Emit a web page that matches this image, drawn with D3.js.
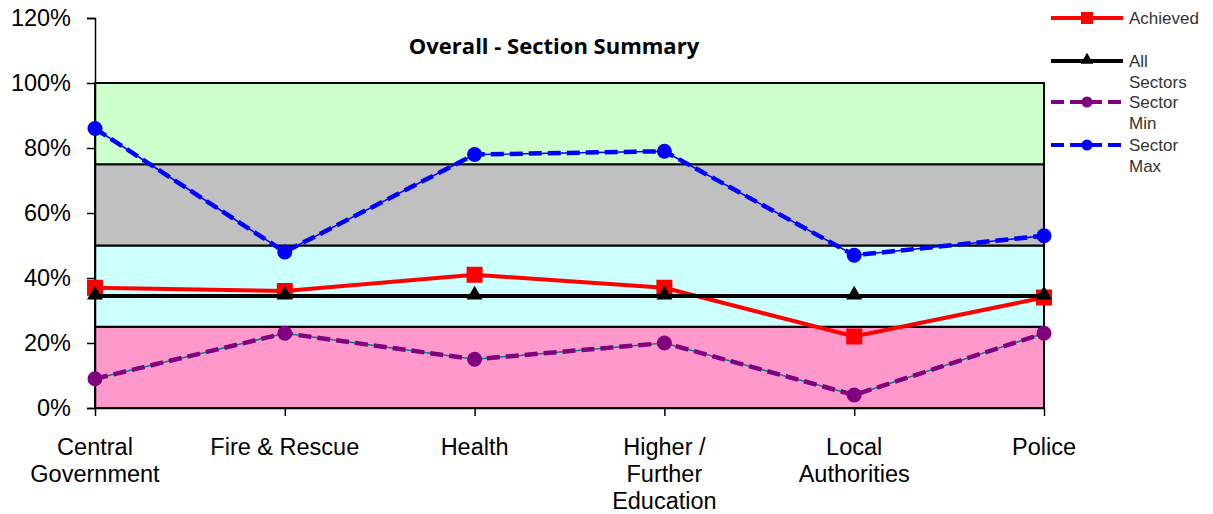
<!DOCTYPE html>
<html>
<head>
<meta charset="utf-8">
<script src="https://cdn.jsdelivr.net/npm/d3@7"></script>
<style>
  html, body { margin: 0; padding: 0; background: #fff; }
  svg { display: block; font-family: "Liberation Sans", Arial, sans-serif; }
</style>
</head>
<body>
<svg id="chart" width="1213" height="514"></svg>
<script>
// Sector categories (multi-line labels split by "\n")
const categories = ["Central\nGovernment", "Fire & Rescue", "Health", "Higher /\nFurther\nEducation", "Local\nAuthorities", "Police"];

// Series values, percent
const achieved   = [37, 36, 41, 37, 22, 34];
const allSectors = [34.5, 34.5, 34.5, 34.5, 34.5, 34.5];
const sectorMin  = [9, 23, 15, 20, 4, 23];
const sectorMax  = [86, 48, 78, 79, 47, 53];

// Background rating bands (percent ranges)
const bandLower  = [0, 25, 50, 75];
const bandUpper  = [25, 50, 75, 100];
const bandColors = ["#ff99cc", "#ccffff", "#c0c0c0", "#ccffcc"];

// Y axis ticks
const yTicks = [0, 20, 40, 60, 80, 100, 120];

const svg = d3.select("#chart");
const m = { left: 95, right: 1044, top: 18, bottom: 408 };

const x = d3.scalePoint().domain(d3.range(categories.length)).range([m.left, m.right]);
const y = d3.scaleLinear().domain([0, 120]).range([m.bottom, m.top]);

// Bands
svg.append("g").selectAll("rect").data(bandLower).join("rect")
  .attr("x", m.left)
  .attr("width", m.right - m.left)
  .attr("y", (d, i) => y(bandUpper[i]))
  .attr("height", (d, i) => y(d) - y(bandUpper[i]))
  .attr("fill", (d, i) => bandColors[i])
  .attr("stroke", "#000")
  .attr("stroke-width", 2);

// Y axis
const yAxis = svg.append("g")
  .attr("transform", `translate(${m.left},0)`)
  .call(d3.axisLeft(y).tickValues(yTicks).tickFormat(d => d + "%").tickSize(8).tickPadding(16));
yAxis.select(".domain").attr("stroke", "#000").attr("stroke-width", 1.5);
yAxis.selectAll(".tick line").attr("stroke", "#000").attr("stroke-width", 1.5);
yAxis.selectAll(".tick text").attr("font-size", 23.5).attr("fill", "#000")
  .attr("font-family", "Liberation Sans, Arial, sans-serif");

// X axis
const xAxis = svg.append("g")
  .attr("transform", `translate(0,${m.bottom})`)
  .call(d3.axisBottom(x).tickFormat("").tickSize(8).tickSizeOuter(0));
xAxis.select(".domain").attr("stroke", "#000").attr("stroke-width", 1.5);
xAxis.selectAll(".tick line").attr("stroke", "#000").attr("stroke-width", 1.5);

// Category labels
const catG = svg.append("g");
categories.forEach((c, i) => {
  const t = catG.append("text")
    .attr("x", x(i))
    .attr("y", 455)
    .attr("text-anchor", "middle")
    .attr("font-size", 23.5)
    .attr("fill", "#000");
  c.split("\n").forEach((line, j) => {
    t.append("tspan").attr("x", x(i)).attr("dy", j === 0 ? 0 : 27).text(line);
  });
});

// Title
svg.append("text")
  .attr("x", 554).attr("y", 54)
  .attr("text-anchor", "middle")
  .attr("font-size", 22)
  .attr("font-weight", "bold")
  .attr("font-family", "'Open Sans', 'Liberation Sans', sans-serif")
  .attr("fill", "#000")
  .text("Overall - Section Summary");

const line = d3.line().x((d, i) => x(i)).y(d => y(d));

// Sector Min: thin teal core with purple dashes
svg.append("path").datum(sectorMin).attr("d", line)
  .attr("fill", "none").attr("stroke", "#008080").attr("stroke-width", 1.5);
svg.append("path").datum(sectorMin).attr("d", line)
  .attr("fill", "none").attr("stroke", "#800080").attr("stroke-width", 4.5)
  .attr("stroke-dasharray", "13,6");
svg.append("g").selectAll("circle").data(sectorMin).join("circle")
  .attr("cx", (d, i) => x(i)).attr("cy", d => y(d)).attr("r", 7.5).attr("fill", "#800080");

// Sector Max: thin blue core with blue dashes
svg.append("path").datum(sectorMax).attr("d", line)
  .attr("fill", "none").attr("stroke", "#0000ff").attr("stroke-width", 1.5);
svg.append("path").datum(sectorMax).attr("d", line)
  .attr("fill", "none").attr("stroke", "#0000ff").attr("stroke-width", 4.5)
  .attr("stroke-dasharray", "13,6");
svg.append("g").selectAll("circle").data(sectorMax).join("circle")
  .attr("cx", (d, i) => x(i)).attr("cy", d => y(d)).attr("r", 7.5).attr("fill", "#0000ff");

// Achieved
svg.append("path").datum(achieved).attr("d", line)
  .attr("fill", "none").attr("stroke", "#ff0000").attr("stroke-width", 4);
svg.append("g").selectAll("rect").data(achieved).join("rect")
  .attr("x", (d, i) => x(i) - 8).attr("y", d => y(d) - 8)
  .attr("width", 16).attr("height", 16).attr("fill", "#ff0000");

// All Sectors
svg.append("path").datum(allSectors).attr("d", line)
  .attr("fill", "none").attr("stroke", "#000").attr("stroke-width", 4);
const tri = d3.symbol().type(d3.symbolTriangle).size(110);
svg.append("g").selectAll("path").data(allSectors).join("path")
  .attr("transform", (d, i) => `translate(${x(i)},${y(d) - 1})`)
  .attr("d", tri).attr("fill", "#000");

// Legend
const legendItems = [
  { lines: ["Achieved"], color: "#ff0000", dash: null, marker: "square", y: 18 },
  { lines: ["All", "Sectors"], color: "#000", dash: null, marker: "triangle", y: 61 },
  { lines: ["Sector", "Min"], color: "#800080", dash: "13,6", marker: "circle", y: 102 },
  { lines: ["Sector", "Max"], color: "#0000ff", dash: "13,6", marker: "circle", y: 145 }
];
const lg = svg.append("g");
legendItems.forEach(it => {
  lg.append("line").attr("x1", 1051).attr("x2", 1123).attr("y1", it.y).attr("y2", it.y)
    .attr("stroke", it.color).attr("stroke-width", 4)
    .attr("stroke-dasharray", it.dash);
  const cx = 1087;
  if (it.marker === "square") {
    lg.append("rect").attr("x", cx - 6).attr("y", it.y - 6).attr("width", 12).attr("height", 12).attr("fill", it.color);
  } else if (it.marker === "triangle") {
    lg.append("path").attr("transform", `translate(${cx},${it.y - 1})`)
      .attr("d", d3.symbol().type(d3.symbolTriangle).size(70)).attr("fill", it.color);
  } else {
    lg.append("circle").attr("cx", cx).attr("cy", it.y).attr("r", 5.5).attr("fill", it.color);
  }
  const t = lg.append("text").attr("x", 1129).attr("y", it.y + 6)
    .attr("font-size", 17).attr("fill", "#333");
  it.lines.forEach((l, j) => t.append("tspan").attr("x", 1129).attr("dy", j === 0 ? 0 : 21).text(l));
});
</script>
</body>
</html>
